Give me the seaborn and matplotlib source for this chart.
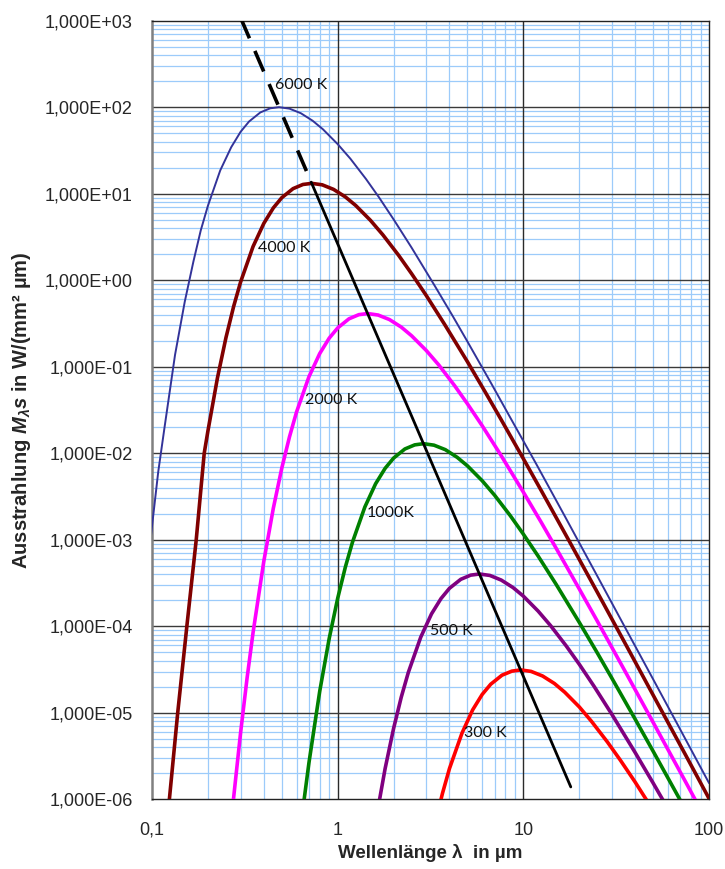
import numpy as np
import pandas as pd
import matplotlib
matplotlib.use('Agg')
import matplotlib.pyplot as plt
from matplotlib.ticker import LogLocator, FuncFormatter, NullFormatter
import seaborn as sns

# Spectral radiant exitance of a black body
# wavelength in µm, exitance in W/(mm² µm)
wl_6000 = [0.0917, 0.1, 0.108, 0.117, 0.133, 0.15, 0.167, 0.183, 0.2, 0.233, 0.267, 0.3, 0.333,
           0.383, 0.433, 0.483, 0.55, 0.633, 0.733, 0.833, 1.0, 1.17, 1.42, 1.67, 2.0, 2.5, 3.33,
           4.17, 5.0, 6.67, 8.33, 11.7, 16.7, 25, 33.3, 50, 66.7, 100]
m_6000 = [2.52e-4, 1.44e-3, 6.11e-3, 2.05e-2, 0.137, 0.562, 1.64, 3.77, 7.26, 18.6, 34.5, 52.0, 68.3,
          87.0, 97.1, 100.0, 96.2, 85.2, 69.7, 55.5, 37.4, 25.4, 14.8, 9.05, 5.05, 2.38, 0.863,
          0.383, 0.195, 0.0657, 0.0279, 7.59e-3, 1.88e-3, 3.81e-4, 1.22e-4, 2.44e-5, 7.76e-6, 1.54e-6]

wl_4000 = [0.118, 0.124, 0.1375, 0.154, 0.173, 0.191, 0.2, 0.225, 0.25, 0.275, 0.3, 0.35, 0.4, 0.45,
           0.5, 0.575, 0.65, 0.725, 0.825, 0.95, 1.1, 1.25, 1.5, 1.75, 2.125, 2.5, 3.0, 3.75, 5.0,
           6.25, 7.5, 10, 12.5, 17.5, 25, 37.5, 50, 75, 100]
m_4000 = [3.5e-7, 1.0e-6, 1.0e-5, 1.0e-4, 1.0e-3, 1.0e-2, 1.81e-2, 0.074, 0.216, 0.496, 0.956, 2.45,
          4.54, 6.85, 9.0, 11.45, 12.79, 13.17, 12.67, 11.22, 9.18, 7.31, 4.93, 3.35, 1.95, 1.19,
          0.665, 0.313, 0.114, 0.0504, 0.0256, 8.64e-3, 3.68e-3, 9.99e-4, 2.48e-4, 5.01e-5,
          1.6e-5, 3.21e-6, 1.02e-6]

wl_2000 = [0.25, 0.275, 0.3, 0.325, 0.35, 0.4, 0.45, 0.5, 0.55, 0.6, 0.7, 0.8, 0.9, 1.0, 1.15, 1.3,
           1.45, 1.65, 1.9, 2.2, 2.5, 3.0, 3.5, 4.25, 5.0, 6.0, 7.5, 10, 12.5, 15, 20, 25, 35, 50,
           75, 100]
m_2000 = [1.22e-7, 1.04e-6, 5.93e-6, 2.52e-5, 8.44e-5, 5.65e-4, 2.31e-3, 6.75e-3, 0.0155, 0.0299,
          0.0766, 0.142, 0.214, 0.281, 0.358, 0.400, 0.412, 0.396, 0.351, 0.287, 0.228, 0.154,
          0.105, 0.0609, 0.0372, 0.0208, 9.79e-3, 3.55e-3, 1.58e-3, 8.01e-4, 2.70e-4, 1.15e-4,
          3.12e-5, 7.74e-6, 1.57e-6, 5.02e-7]

wl_1000 = [0.6, 0.65, 0.7, 0.8, 0.9, 1.0, 1.1, 1.2, 1.4, 1.6, 1.8, 2.0, 2.3, 2.6, 2.9, 3.3, 3.8, 4.4,
           5.0, 6.0, 7.0, 8.5, 10, 12, 15, 20, 25, 30, 40, 50, 70, 100]
m_1000 = [1.85e-7, 7.86e-7, 2.64e-6, 1.77e-5, 7.23e-5, 2.11e-4, 4.85e-4, 9.33e-4, 2.39e-3, 4.44e-3,
          6.69e-3, 8.79e-3, 0.0112, 0.0125, 0.0129, 0.0124, 0.0110, 8.97e-3, 7.14e-3, 4.81e-3,
          3.27e-3, 1.90e-3, 1.16e-3, 6.49e-4, 3.06e-4, 1.11e-4, 4.93e-5, 2.50e-5, 8.44e-6,
          3.59e-6, 9.75e-7, 2.42e-7]

wl_500 = [1.6, 1.8, 2.0, 2.2, 2.4, 2.8, 3.2, 3.6, 4.0, 4.6, 5.2, 5.8, 6.6, 7.6, 8.8, 10, 12, 14, 17,
          20, 24, 30, 40, 50, 60]
m_500 = [5.52e-7, 2.26e-6, 6.60e-6, 1.52e-5, 2.92e-5, 7.48e-5, 1.39e-4, 2.09e-4, 2.75e-4, 3.49e-4,
         3.90e-4, 4.02e-4, 3.87e-4, 3.42e-4, 2.80e-4, 2.23e-4, 1.50e-4, 1.02e-4, 5.94e-5, 3.64e-5,
         2.03e-5, 9.56e-6, 3.47e-6, 1.54e-6, 7.81e-7]

wl_300 = [3.33, 3.67, 4.0, 4.67, 5.33, 6.0, 6.67, 7.67, 8.67, 9.67, 11, 12.7, 14.7, 16.7, 20, 23.3,
          28.3, 33.3, 40, 50]
m_300 = [5.13e-7, 1.18e-6, 2.27e-6, 5.82e-6, 1.08e-5, 1.63e-5, 2.14e-5, 2.72e-5, 3.03e-5, 3.13e-5,
         3.01e-5, 2.66e-5, 2.18e-5, 1.73e-5, 1.17e-5, 7.94e-6, 4.62e-6, 2.83e-6, 1.58e-6, 7.44e-7]

# Wien displacement line (dashed part, then solid part)
wien_wl_dashed = [0.3, 0.5, 0.72]
wien_m_dashed = [1082, 84.2, 13.6]
wien_wl_solid = [0.72, 1, 2, 5, 10, 18]
wien_m_solid = [13.6, 2.63, 0.0822, 8.42e-4, 2.63e-5, 1.39e-6]

curve_names = ['6000 K', '4000 K', '2000 K', '1000K', '500 K', '300 K']
curve_wl = [wl_6000, wl_4000, wl_2000, wl_1000, wl_500, wl_300]
curve_m = [m_6000, m_4000, m_2000, m_1000, m_500, m_300]

# styling
colors = ['#333399', '#800000', '#FF00FF', '#008000', '#800080', '#FF0000']
widths = [1.4, 2.6, 2.6, 2.6, 2.6, 2.6]
label_pos = [(0.638, 180), (0.512, 2.34), (0.926, 0.0412), (1.936, 2.04e-3), (4.09, 8.8e-5), (6.23, 5.86e-6)]

sns.set_style('white')
plt.rcParams['font.family'] = ['Liberation Sans', 'DejaVu Sans']
plt.rcParams['mathtext.fontset'] = 'custom'
plt.rcParams['mathtext.rm'] = 'Liberation Sans:bold'
plt.rcParams['mathtext.it'] = 'Liberation Sans:italic:bold'
plt.rcParams['mathtext.bf'] = 'Liberation Sans:bold'

fig = plt.figure(figsize=(7.25, 8.69), dpi=100)
ax = fig.add_axes([0.2097, 0.0802, 0.7683, 0.896])

for name, wl, m, c, lw in zip(curve_names, curve_wl, curve_m, colors, widths):
    df = pd.DataFrame({'wl': wl, 'M': m})
    sns.lineplot(data=df, x='wl', y='M', color=c, linewidth=lw, estimator=None, sort=False, ax=ax, zorder=3)

sns.lineplot(x=wien_wl_dashed, y=wien_m_dashed, color='black', linewidth=2.6, estimator=None,
             sort=False, ax=ax, zorder=4, linestyle=(0, (6.2, 3.8)))
sns.lineplot(x=wien_wl_solid, y=wien_m_solid, color='black', linewidth=2.0, estimator=None,
             sort=False, ax=ax, zorder=4)

for name, (lx, ly) in zip(curve_names, label_pos):
    ax.text(lx, ly, name, fontsize=11.5, family=['Lato', 'DejaVu Sans'], color='#111111',
            ha='center', va='center', zorder=5)

ax.set_xscale('log')
ax.set_yscale('log')
ax.set_xlim(0.1, 100)
ax.set_ylim(1e-6, 1e3)

ax.xaxis.set_major_locator(LogLocator(base=10, numticks=20))
ax.yaxis.set_major_locator(LogLocator(base=10, numticks=20))
xt = [v for v in ax.get_xticks() if 0.1 <= v <= 100]
yt = [v for v in ax.get_yticks() if 1e-6 <= v <= 1e3]
ax.set_xticks(xt)
ax.set_yticks(yt)
ax.xaxis.set_minor_locator(LogLocator(base=10, subs=np.arange(2, 10), numticks=100))
ax.yaxis.set_minor_locator(LogLocator(base=10, subs=np.arange(2, 10), numticks=100))
ax.xaxis.set_minor_formatter(NullFormatter())
ax.yaxis.set_minor_formatter(NullFormatter())
ax.yaxis.set_major_formatter(FuncFormatter(lambda v, p: f'{v:.3E}'.replace('.', ',')))
ax.xaxis.set_major_formatter(FuncFormatter(lambda v, p: f'{v:g}'.replace('.', ',')))
ax.set_xlim(0.1, 100)
ax.set_ylim(1e-6, 1e3)

# light blue minor grid below, dark major grid drawn on top of it
ax.grid(which='minor', color='#9CCBFA', linewidth=0.9)
ax.grid(which='major', visible=False)
ax.set_axisbelow(True)
for v in xt[1:-1]:
    ax.axvline(v, color='#2a2a2a', linewidth=1.0, zorder=1)
for v in yt[1:-1]:
    ax.axhline(v, color='#3a3a3a', linewidth=1.0, zorder=1)

ax.tick_params(axis='y', which='major', length=5, width=1, color='#808080', pad=9, labelsize=13)
ax.tick_params(axis='x', which='major', length=0, pad=16, labelsize=13)
ax.tick_params(which='minor', length=0)

for side in ['top', 'right', 'bottom']:
    ax.spines[side].set_color('#222222')
    ax.spines[side].set_linewidth(1.0)
ax.spines['left'].set_color('#808080')
ax.spines['left'].set_linewidth(1.8)

ax.set_xlabel('Wellenlänge λ  in µm', fontsize=13.5, fontweight='bold', labelpad=4)
ax.set_ylabel(r'Ausstrahlung $M_{\lambda}s$ in W/(mm² µm)', fontsize=14.5, fontweight='bold', labelpad=8)

plt.savefig('out.png', dpi=100)
